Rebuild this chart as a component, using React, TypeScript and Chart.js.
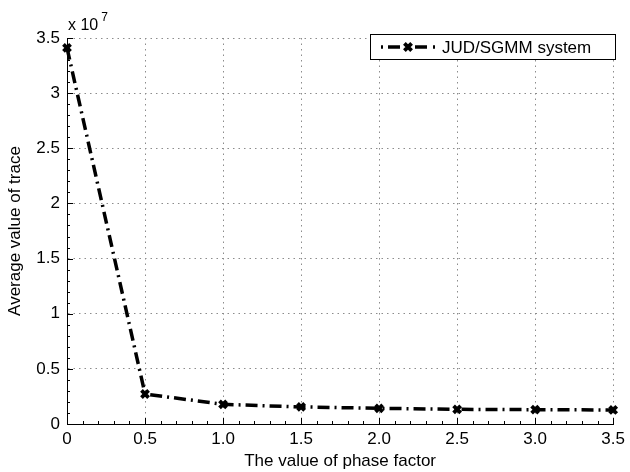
import React, { useEffect, useRef } from 'react';
import { Chart, registerables } from 'chart.js';

Chart.register(...registerables);

const xValues = [0, 0.5, 1.0, 1.5, 2.0, 2.5, 3.0, 3.5];
const traceValues = [3.41e7, 0.272e7, 0.178e7, 0.155e7, 0.142e7, 0.133e7, 0.13e7, 0.127e7];
const xTickLabels = ['0', '0.5', '1.0', '1.5', '2.0', '2.5', '3.0', '3.5'];
const yTickLabels = ['0', '0.5', '1', '1.5', '2', '2.5', '3', '3.5'];
const seriesName = 'JUD/SGMM system';
const xTitle = 'The value of phase factor';
const yTitle = 'Average value of trace';
const exponentBase = 'x 10';
const exponentPower = '7';

const FONT = '"Liberation Sans", Arial, Helvetica, sans-serif';
const DASH = [12, 5, 2, 5];
const GRID_DASH = [1.5, 4];

const matlabPlugin = {
  id: 'matlabDecor',
  beforeDatasetsDraw(chart: any) {
    const { ctx, chartArea, scales } = chart;
    const xs = scales.x;
    const ys = scales.y;
    ctx.save();
    ctx.strokeStyle = '#000';
    ctx.lineWidth = 1;
    ctx.setLineDash([]);
    ctx.beginPath();
    // solid axis lines
    ctx.moveTo(chartArea.left + 0.5, chartArea.top);
    ctx.lineTo(chartArea.left + 0.5, chartArea.bottom + 0.5);
    ctx.lineTo(chartArea.right, chartArea.bottom + 0.5);
    // x major + minor ticks (inward)
    for (let i = 0; i <= 35; i++) {
      const v = i / 10;
      const px = Math.round(xs.getPixelForValue(v)) + 0.5;
      const len = i % 5 === 0 ? 6 : 3;
      ctx.moveTo(px, chartArea.bottom);
      ctx.lineTo(px, chartArea.bottom - len);
    }
    // y major + minor ticks
    for (let i = 0; i <= 35; i++) {
      const v = i * 1e6;
      const py = Math.round(ys.getPixelForValue(v)) + 0.5;
      const len = i % 5 === 0 ? 6 : 3;
      ctx.moveTo(chartArea.left, py);
      ctx.lineTo(chartArea.left + len, py);
    }
    ctx.stroke();
    ctx.restore();
  },
  afterDraw(chart: any) {
    const { ctx, chartArea } = chart;
    ctx.save();
    // exponent label
    ctx.fillStyle = '#000';
    ctx.textBaseline = 'alphabetic';
    ctx.textAlign = 'left';
    ctx.font = `16px ${FONT}`;
    ctx.fillText(exponentBase, chartArea.left + 1, 29.5);
    const w = ctx.measureText(exponentBase).width;
    ctx.font = `12px ${FONT}`;
    ctx.fillText(exponentPower, chartArea.left + 1 + w + 3, 21);

    // legend
    const bx = 370.5, by = 34.5, bw = 245, bh = 25;
    ctx.fillStyle = '#fff';
    ctx.fillRect(bx, by, bw, bh);
    ctx.strokeStyle = '#000';
    ctx.lineWidth = 1;
    ctx.strokeRect(bx, by, bw, bh);
    const ly = by + bh / 2;
    ctx.lineWidth = 3.5;
    ctx.lineCap = 'butt';
    ctx.beginPath();
    const segs = [[381, 383], [388, 400], [415, 427], [433, 435]];
    for (const [a, b] of segs) {
      ctx.moveTo(a, ly);
      ctx.lineTo(b, ly);
    }
    ctx.stroke();
    const mx = 408, r = 3.6;
    ctx.lineWidth = 3.8;
    ctx.beginPath();
    ctx.moveTo(mx - r, ly - r);
    ctx.lineTo(mx + r, ly + r);
    ctx.moveTo(mx + r, ly - r);
    ctx.lineTo(mx - r, ly + r);
    ctx.stroke();
    ctx.fillStyle = '#000';
    ctx.font = `17px ${FONT}`;
    ctx.textBaseline = 'middle';
    ctx.fillText(seriesName, 442, ly + 1);
    ctx.restore();
  },
};

export default function App() {
  const ref = useRef<HTMLCanvasElement | null>(null);

  useEffect(() => {
    if (!ref.current) return;
    const gridCommon = {
      color: '#8c8c8c',
      lineWidth: 1,
      drawTicks: false,
    };
    const chart = new Chart(ref.current, {
      type: 'line',
      data: {
        datasets: [
          {
            label: seriesName,
            data: xValues.map((x, i) => ({ x, y: traceValues[i] })),
            borderColor: '#000',
            backgroundColor: '#000',
            borderWidth: 3.5,
            borderDash: DASH,
            borderCapStyle: 'butt',
            pointStyle: 'crossRot',
            pointRadius: 5,
            pointBorderWidth: 3.8,
            pointBorderColor: '#000',
            pointBackgroundColor: '#000',
            tension: 0,
            fill: false,
            clip: false,
          } as any,
        ],
      },
      options: {
        animation: false,
        responsive: false,
        maintainAspectRatio: false,
        layout: { padding: { top: 38, right: 15, left: 0, bottom: 0 } },
        plugins: {
          legend: { display: false },
          tooltip: { enabled: false },
        },
        scales: {
          x: {
            type: 'linear',
            min: 0,
            max: 3.5,
            afterFit: (s: any) => {
              s.height = 48;
            },
            grid: { ...gridCommon } as any,
            border: { display: true, color: '#000', width: 1, dash: GRID_DASH } as any,
            ticks: {
              stepSize: 0.5,
              autoSkip: false,
              maxRotation: 0,
              padding: 5,
              color: '#000',
              font: { family: FONT, size: 17 },
              callback: (_v: any, i: number) => xTickLabels[i],
            },
            title: {
              display: true,
              text: xTitle,
              color: '#000',
              font: { family: FONT, size: 17 },
              padding: { top: 0, bottom: 0 },
            },
          },
          y: {
            type: 'linear',
            min: 0,
            max: 3.5e7,
            afterFit: (s: any) => {
              s.width = 67;
            },
            grid: { ...gridCommon } as any,
            border: { display: true, color: '#000', width: 1, dash: GRID_DASH } as any,
            ticks: {
              stepSize: 0.5e7,
              autoSkip: false,
              padding: 7,
              color: '#000',
              font: { family: FONT, size: 17 },
              callback: (_v: any, i: number) => yTickLabels[i],
            },
            title: {
              display: true,
              text: yTitle,
              color: '#000',
              font: { family: FONT, size: 17 },
              padding: { top: 5, bottom: 0 },
            },
          },
        },
      } as any,
      plugins: [matlabPlugin],
    });
    return () => chart.destroy();
  }, []);

  return (
    <div style={{ position: 'fixed', left: 0, top: 0, width: 630, height: 472, background: '#fff' }}>
      <canvas ref={ref} width={630} height={472} style={{ width: 630, height: 472 }} />
    </div>
  );
}
